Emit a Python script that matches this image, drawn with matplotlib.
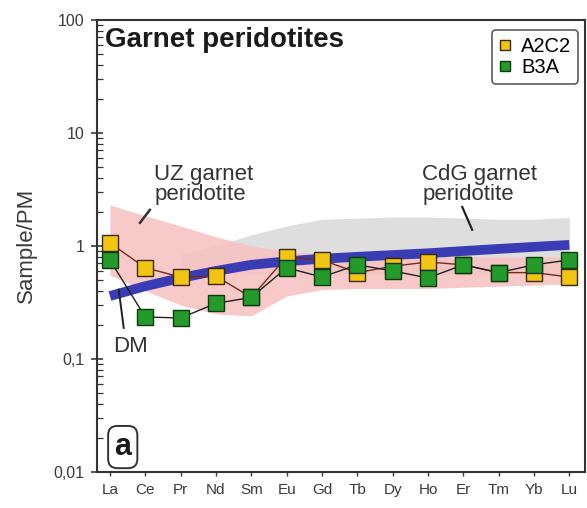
import matplotlib
matplotlib.use("Agg")
import matplotlib.pyplot as plt
from matplotlib.ticker import FixedLocator, LogLocator, NullFormatter
import numpy as np

plt.rcParams['font.family'] = ['Liberation Sans', 'DejaVu Sans']

elements = ["La", "Ce", "Pr", "Nd", "Sm", "Eu", "Gd", "Tb", "Dy", "Ho", "Er", "Tm", "Yb", "Lu"]

# Sample / primitive mantle
a2c2 = [1.06, 0.64, 0.53, 0.54, 0.35, 0.80, 0.75, 0.58, 0.66, 0.72, 0.68, 0.58, 0.58, 0.53]
b3a = [0.75, 0.235, 0.23, 0.31, 0.35, 0.64, 0.53, 0.68, 0.60, 0.52, 0.68, 0.58, 0.68, 0.75]

# Depleted mantle pattern
dm = [0.36, 0.44, 0.52, 0.60, 0.68, 0.73, 0.77, 0.80, 0.83, 0.86, 0.90, 0.94, 0.98, 1.02]

# UZ garnet peridotite field (upper / lower envelope)
uz_upper = [2.3, 1.85, 1.5, 1.2, 1.0, 0.9, 0.85, 0.82, 0.80, 0.80, 0.80, 0.80, 0.80, 0.80]
uz_lower = [0.55, 0.40, 0.30, 0.25, 0.24, 0.36, 0.41, 0.42, 0.42, 0.42, 0.43, 0.44, 0.45, 0.46]

# CdG garnet peridotite field, Pr to Lu
cdg_elements = elements[2:]
cdg_upper = [0.85, 1.0, 1.25, 1.5, 1.72, 1.76, 1.8, 1.8, 1.76, 1.72, 1.72, 1.78]
cdg_lower = [0.60, 0.58, 0.56, 0.56, 0.56, 0.56, 0.56, 0.56, 0.56, 0.56, 0.56, 0.56]

y_ticks = [0.01, 0.1, 1, 10, 100]
y_labels = ["0,01", "0,1", "1", "10", "100"]

x = np.arange(len(elements))
x_cdg = np.arange(2, len(elements))

fig = plt.figure(figsize=(5.87, 5.08), dpi=100)
ax = fig.add_axes([0.165, 0.071, 0.832, 0.890])

ax.fill_between(x_cdg, cdg_lower, cdg_upper, color="#dedede", lw=0, zorder=1)
ax.fill_between(x, uz_lower, uz_upper, color="#f7c3c3", lw=0, zorder=1.5, alpha=0.9)
ax.plot(x, dm, color="#3a3cb4", lw=7, solid_capstyle="butt", zorder=2)

ax.plot(x, a2c2, color="#7a2a1a", lw=1.0, marker="s", ms=12, mfc="#f2c414",
        mec="#3a2a00", mew=1.0, zorder=3, label="A2C2")
ax.plot(x, b3a, color="#202020", lw=1.0, marker="s", ms=12, mfc="#239a2a",
        mec="#0e3a10", mew=1.0, zorder=4, label="B3A")

ax.set_yscale("log")
ax.set_ylim(0.01, 100)
ax.set_xlim(-0.37, 13.45)
ax.yaxis.set_major_locator(FixedLocator(y_ticks))
ax.set_yticklabels(y_labels)
ax.yaxis.set_minor_locator(LogLocator(base=10, subs=np.arange(2, 10)))
ax.yaxis.set_minor_formatter(NullFormatter())
ax.set_xticks(x)
ax.set_xticklabels(elements)

ax.tick_params(axis="y", which="major", direction="inout", length=8, width=1.2,
               labelsize=11.5, colors="#3a3a3a", pad=5)
ax.tick_params(axis="y", which="minor", direction="in", length=4, width=0.9, colors="#333333")
ax.tick_params(axis="x", which="major", direction="out", length=3, width=1.0,
               labelsize=11, colors="#3a3a3a", pad=5)
for s in ax.spines.values():
    s.set_linewidth(1.5)
    s.set_color("#333333")

ax.set_ylabel("Sample/PM", fontsize=16, color="#3a3a3a", labelpad=12)

ax.text(0.016, 0.985, "Garnet peridotites", transform=ax.transAxes, fontsize=20,
        fontweight="bold", color="#1a1a1a", va="top", ha="left")

leg = ax.legend(loc="upper right", bbox_to_anchor=(0.986, 0.978), fontsize=14.5,
                handlelength=0.6, handletextpad=0.5, borderpad=0.35, labelspacing=0.12,
                borderaxespad=0.0, frameon=True, fancybox=True, edgecolor="#333333",
                markerscale=0.65)
leg.get_frame().set_linewidth(1.2)
for h in leg.legend_handles:
    h.set_linestyle("none")

# Field and pattern labels with leader lines
ax.text(1.25, 5.3, "UZ garnet\nperidotite", fontsize=16, color="#333333",
        ha="left", va="top", linespacing=0.95)
ax.plot([0.85, 1.13], [1.6, 2.08], color="#333333", lw=1.8, zorder=5)

ax.text(8.84, 5.3, "CdG garnet\nperidotite", fontsize=16, color="#333333",
        ha="left", va="top", linespacing=0.95)
ax.plot([9.97, 10.25], [2.21, 1.39], color="#222222", lw=1.6, zorder=5)

ax.text(0.08, 0.16, "DM", fontsize=16, color="#333333", ha="left", va="top")
ax.plot([0.25, 0.39], [0.41, 0.188], color="#222222", lw=1.4, zorder=5)

ax.text(0.053, 0.055, "a", transform=ax.transAxes, fontsize=22, fontweight="bold",
        color="#1a1a1a", ha="center", va="center",
        bbox=dict(boxstyle="round,pad=0.2,rounding_size=0.3", fc="white",
                  ec="#333333", lw=1.4))

fig.savefig("out.png", dpi=100)
